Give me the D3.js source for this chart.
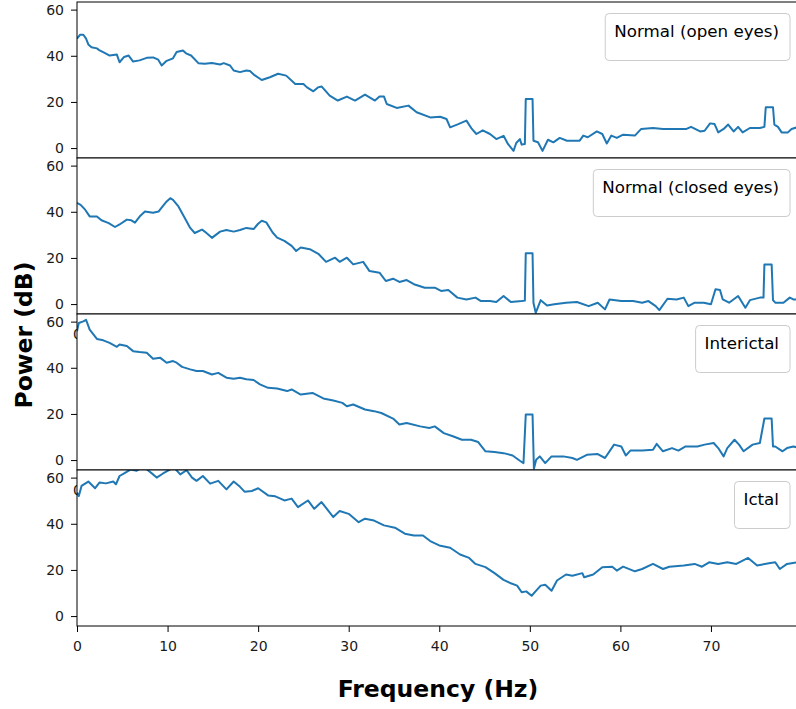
<!DOCTYPE html>
<html><head><meta charset="utf-8">
<script src="https://cdn.jsdelivr.net/npm/d3@7"></script>
<style>body{margin:0;background:#fff} svg{display:block}</style>
</head><body><svg id="c" width="796" height="709"></svg>
<script>
// ---- data ----
const openFreq=[0,0.33,0.7,1.0,1.25,1.6,2.2,2.5,3.1,3.6,4.4,4.7,5.2,5.7,6.2,6.9,7.7,8.4,8.97,9.35,9.9,10.6,11,11.7,12.1,12.6,13.4,14.1,14.9,15.8,16.2,16.9,17.3,18,18.7,19.1,19.6,20.4,21.3,22.2,23.1,24.1,25,25.4,26.1,26.6,27,27.9,28.8,29.8,30.7,31.8,32.9,33.4,33.9,34.2,35.3,36.6,37.5,39,40.1,40.8,41.2,42.1,43,43.6,44.1,44.8,45.6,46.3,47.1,47.6,48.2,48.5,48.9,49.1,49.45,49.55,50.3,50.4,50.9,51.4,52,52.6,53.3,54.1,55.5,55.9,56.4,57.4,58,58.5,59,59.6,60.3,61.6,62.3,63.6,64.7,65.8,67.3,67.8,68.8,69.3,69.9,70.4,70.8,71.4,71.9,72.5,73,73.5,74.3,75.4,75.9,76.05,76.85,77,77.4,77.8,78.5,78.9,79.5];
const openPower=[47.4,49.1,49.1,47.4,44.9,43.7,43.2,42.3,41.1,40.1,40.5,37.2,39.5,40.1,37.5,38,39.1,39.3,38.3,35.8,37.8,38.9,41.6,42.3,40.9,40.1,36.8,36.5,36.9,36.2,36.8,35.8,33.6,32.9,33.6,33.4,31.6,29.5,30.7,32.2,31.4,27.8,27.8,26.3,24.6,26.3,26.7,22.7,20.6,22.3,20.6,23.2,20.6,22.3,22.3,19.1,17.4,18.4,15.5,13.3,13.6,12.6,9,10.4,11.9,8.3,6.1,7.7,6.1,3.9,5.3,1.7,-1.2,2.2,3.9,1.5,1.8,21.3,21.3,3.2,2.5,-1.2,3.6,2.5,4.4,3.2,3.2,5.4,4.7,7.2,6.1,2,5.4,4.4,5.8,5.4,8.3,8.7,8.3,8.3,8.3,9.2,7.2,7.5,10.7,10.4,6.8,8.3,10.2,7.2,9.2,6.8,8.7,8.7,9.2,17.7,17.7,10.2,9.2,6.8,6.8,8.3,9];

const closedFreq=[0,0.4,0.9,1.4,2.2,2.7,3.5,4.2,4.7,5.5,6,6.4,7,7.5,8.4,9,9.3,9.9,10.3,10.6,11.2,11.9,12.5,13,13.8,14.1,14.9,15.8,16.5,17.3,18,18.7,19.5,20,20.4,20.9,21.6,22.1,22.9,23.7,24.2,24.7,25.7,26.7,27.5,28.5,29,29.8,30.5,31.6,32.3,33.4,34.1,34.9,35.6,36.4,37.2,38.4,39.5,40.2,41,42,43,44,44.6,45.6,46.3,47.1,47.9,49.1,49.45,49.55,50.3,50.4,50.65,51.2,51.9,52.7,54,55.2,56.5,57.5,58.3,58.8,60.1,61.4,62.4,63.1,63.9,64.3,65.2,66.2,67,67.5,68.2,69.2,70,70.5,71,71.3,72,73,73.8,74.3,75.4,75.8,75.9,76.7,76.85,77.1,78,78.7,79.1,79.5];
const closedPower=[43.8,43,40.9,38,38,36.3,35.1,33.4,34.5,36.6,36.3,35.3,38.3,40.1,39.6,40.1,41.6,44.5,45.9,45.2,42.3,37.3,33,30.8,32.3,31.4,28.7,31.4,32.1,31.4,32.1,33,32.5,34.8,36.1,35.4,31,28.8,27.4,25.2,23,24.5,23.8,21.6,18.3,20.1,18.3,20.1,17.2,18.3,14.3,13.6,10,11,9.6,10.4,8.6,7.1,7.1,5.7,6.1,2.8,2,2.8,1.3,1.3,0.9,3.5,0.9,1.3,1.5,22,22,0.6,-3.8,1.7,-0.6,-0.1,0.6,0.9,-0.9,0.6,-2.3,2,1.3,1.3,0.6,1.3,-0.9,-2.6,2.3,2,2.8,-0.9,0.6,0.6,-0.1,6.4,6.1,2,0.6,3.5,-1.6,1.7,2.8,2.8,17.2,17.2,1.7,0.6,0.6,2.8,2,2];

const interFreq=[0,0.2,0.7,1.0,1.4,2.2,2.9,3.6,4.4,4.7,5.5,6.2,6.9,7.7,8.4,9.2,9.9,10.6,11,11.6,12.5,13.2,13.9,14.9,15.6,16.5,17.3,18,18.7,19.5,20.2,21.1,22.1,23.2,23.7,24.7,26,27.2,28.3,29.3,29.8,30.5,31.8,32.8,33.6,34.9,35.6,36.4,37.9,38.9,39.5,40.5,41.5,42.5,43.5,44.3,45.1,46.1,47.1,48.1,48.9,49.3,49.55,50.3,50.45,50.7,51.1,51.7,52.4,53.7,54.7,55.2,56.3,57.5,58.3,59.3,60.1,60.6,61.1,62.4,63.6,64,64.7,65.7,66.4,67.2,68.5,69.3,70.3,70.8,71.4,71.8,72.6,73.1,73.6,74.6,75.4,75.9,76.7,76.85,77.1,77.9,78.4,79.1,79.5];
const interPower=[55.8,59.4,60.1,60.8,56.5,52.5,51.9,50.8,49.1,50.1,49.4,47.2,46.8,46.5,43.9,44.3,42.2,42.9,42.2,40.4,39.3,38.6,38.6,37.1,37.8,35.7,35.2,35.7,35,34.7,32.8,31.3,31,29.9,30.6,28.4,29.1,26.7,25.8,24.8,23.3,24.1,21.9,21.2,20.4,18,15.4,16.1,14.6,13.9,14.6,11.7,10.3,8.8,8.8,7.8,3.8,3.5,3,2,-0.3,-1.3,19.7,19.7,-3.8,0.1,1.6,-1.3,1.6,1.6,0.9,0.1,2.3,2.6,0.9,6.7,5.9,2,4.1,4.1,4.5,7,3.8,5.2,4.1,5.9,5.9,6.7,7.4,5.2,1.6,5.2,8.8,6.7,3.8,6.7,7.4,18,18,5.9,5.9,3.8,5.2,5.9,5.5];

const ictalFreq=[0,0.2,0.5,1.25,2,2.5,3.2,4,4.3,4.7,5.3,5.9,6.6,7.2,7.7,8.4,8.8,9.5,10.3,10.8,11.4,12.1,12.7,13.2,13.9,14.7,15.6,16.5,17.3,18,18.5,19.3,20,21.1,21.9,22.9,23.7,24.4,25.5,26.2,27,28.3,29,30,31.1,31.8,32.8,33.9,35.1,36.2,37.2,38.2,39,40,41.2,42.3,43.3,44,45.1,46.1,47.1,47.9,48.6,49.1,49.6,50.2,50.7,51.2,51.7,52.4,53,54,54.7,55.8,56,57,58,59.1,59.6,60.3,61.6,62.4,63.6,64.7,65.4,67,68.2,69,69.8,70.8,71.8,72.8,74.1,75.1,76.4,77.1,77.6,78.4,79.5];
const ictalPower=[53.5,52,56.4,58.3,55.4,57.9,57.5,58.3,57.1,60.7,62.1,63.5,63,64.5,63.6,61.4,60,61.8,63.6,64,61.4,63.2,60,58.6,60.7,57.4,58.6,54.9,58.3,56,53.9,54.2,55.4,52.3,51.9,50.1,50.9,47.2,50.1,46.5,49.4,42.9,45.5,44.3,40.7,42.2,41.4,39.3,38.3,35.7,34.9,34.9,32.5,30.6,29.6,26.7,25.2,22.6,21.2,18.6,15.7,14.2,13.2,10.3,10.7,8.8,11,13.2,13.6,11,15.4,18,17.5,18.6,16.8,18,21.2,21.4,19.7,21.4,19.4,20.4,22.6,20.4,21.4,21.9,22.6,21.4,23.3,22.6,23.3,22.6,25.2,21.9,22.9,23.3,20.4,22.6,23.3];

const panelLabels=["Normal (open eyes)","Normal (closed eyes)","Interictal","Ictal"];
const xTicks=[0,10,20,30,40,50,60,70];
const yTicks=[0,20,40,60];
const xLabel="Frequency (Hz)";
const yLabel="Power (dB)";

// ---- drawing ----
const series=[[openFreq,openPower],[closedFreq,closedPower],[interFreq,interPower],[ictalFreq,ictalPower]];
const svg=d3.select('#c');
const L=77,R=797,T0=2,PH=156;
const x=d3.scaleLinear().domain([0,79.5]).range([L,R]);
const FONT="DejaVu Sans, sans-serif";

series.forEach((s,i)=>{
  const t=T0+i*PH, b=t+PH, last=i===series.length-1;
  const y=d3.scaleLinear().domain([-4.3,63.3]).range([b,t]);
  const g=svg.append('g');
  g.append('rect').attr('x',L).attr('y',t).attr('width',R-L).attr('height',PH).attr('fill','#fff');
  const cid='clip'+i;
  g.append('clipPath').attr('id',cid).append('rect').attr('x',L).attr('y',t).attr('width',R-L).attr('height',PH);
  const pts=s[0].map((f,k)=>[f,s[1][k]]);
  g.append('path').datum(pts).attr('clip-path',`url(#${cid})`)
    .attr('fill','none').attr('stroke','#1f77b4').attr('stroke-width',2).attr('stroke-linejoin','round')
    .attr('d',d3.line().x(d=>x(d[0])).y(d=>y(d[1])));
  // x axis; on the upper panels only the left part of the "0" label peeks out
  const xa=g.append('g').attr('transform',`translate(0,${b})`)
    .call(d3.axisBottom(x).tickValues(last?xTicks:[0]).tickSize(6).tickPadding(9).tickFormat(d3.format('d')));
  if(i===0) xa.selectAll('text').remove();
  // y axis
  const ya=g.append('g').attr('transform',`translate(${L},0)`)
    .call(d3.axisLeft(y).tickValues(yTicks).tickSize(6).tickPadding(7).tickFormat(d3.format('d')));
  [xa,ya].forEach(a=>{
    a.select('.domain').remove();
    a.selectAll('line').attr('stroke','#000').attr('stroke-width',1);
    a.selectAll('text').attr('font-family',FONT).attr('font-size','14px').attr('fill','#1a1a1a');
  });
  // frame
  g.append('rect').attr('x',L).attr('y',t).attr('width',R-L).attr('height',PH)
    .attr('fill','none').attr('stroke','#000').attr('stroke-width',1);
  // legend
  const lg=g.append('g');
  const box=lg.append('rect');
  const tx=lg.append('text').text(panelLabels[i]).attr('font-family',FONT).attr('font-size','16.7px').attr('fill','#000');
  const w=tx.node().getComputedTextLength();
  const bw=w+20, bx=790-bw, by=t+11.5;
  box.attr('x',bx).attr('y',by).attr('width',bw).attr('height',47).attr('rx',4)
    .attr('fill','#fff').attr('fill-opacity',0.8).attr('stroke','#ccc').attr('stroke-width',1);
  tx.attr('x',bx+9).attr('y',by+23);
});

svg.append('text').text(xLabel).attr('x',438).attr('y',697).attr('text-anchor','middle')
  .attr('font-family',FONT).attr('font-weight','bold').attr('font-size','23.5px').attr('fill','#000');
svg.append('text').text(yLabel).attr('transform','translate(32,335) rotate(-90)').attr('text-anchor','middle')
  .attr('font-family',FONT).attr('font-weight','bold').attr('font-size','23.5px').attr('fill','#000');
</script></body></html>
